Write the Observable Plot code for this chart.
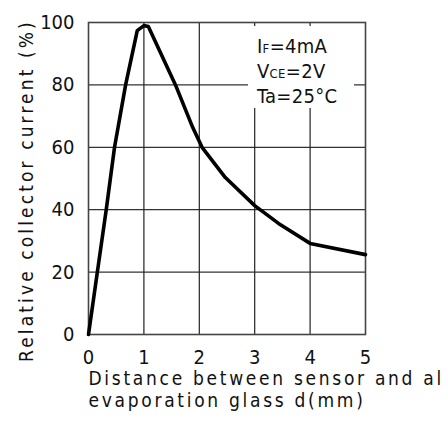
<!DOCTYPE html>
<html><head><meta charset="utf-8">
<script src="https://cdn.jsdelivr.net/npm/d3@7"></script>
<script src="https://cdn.jsdelivr.net/npm/@observablehq/plot@0.6"></script>
<style>
body{margin:0;background:#fff;}
#wrap{position:relative;width:448px;height:423px;overflow:hidden;}
#legend{position:absolute;left:248px;top:26px;width:106px;height:82px;background:#fff;
  font-family:"DejaVu Sans Condensed","Liberation Sans Narrow",sans-serif;font-size:20px;line-height:23px;
  padding-left:9px;padding-top:9px;box-sizing:border-box;color:#111;letter-spacing:0.3px;}
#legend .s{font-size:13px;}
.xlab text{letter-spacing:2.7px;}
.ylab text{letter-spacing:3.1px;}
</style>
</head><body>
<div id="wrap"><div id="legend"></div></div>
<script>
const distance = [0, 0.16, 0.32, 0.47, 0.67, 0.88, 1.0, 1.08, 1.57, 1.88, 2.05, 2.47, 3.0, 3.43, 4.0, 5.0];
const current  = [0, 20, 40, 60, 80, 97.4, 99, 98.7, 80, 66.4, 60, 50.3, 41.3, 35.6, 29.2, 25.6];
const xTicks = [0, 1, 2, 3, 4, 5];
const yTicks = [0, 20, 40, 60, 80, 100];
const xGrid = [1, 2, 3, 4];
const yGrid = [20, 40, 60, 80];
const xLabelLines = ["Distance between sensor and al", "evaporation glass d(mm)"];
const yLabel = "Relative collector current (%)";
const legendLines = [["I", "F", "=4mA"], ["V", "CE", "=2V"], ["Ta=25°C", "", ""]];

const data = distance.map((d, i) => ({d, c: current[i]}));
const font = `"DejaVu Sans Condensed","Liberation Sans Narrow",sans-serif`;

const chart = Plot.plot({
  width: 448, height: 423,
  marginLeft: 88, marginRight: 83, marginTop: 22, marginBottom: 89,
  style: {fontFamily: font, fontSize: "19px", color: "#111", background: "#fff", overflow: "hidden"},
  x: {domain: [0, 5], label: null},
  y: {domain: [0, 100], label: null},
  marks: [
    Plot.ruleY(yGrid, {stroke: "#333", strokeWidth: 1.2}),
    Plot.ruleX(xGrid, {stroke: "#222", strokeWidth: 1.2}),
    Plot.frame({stroke: "#444", strokeWidth: 1.6}),
    Plot.axisX(xTicks, {tickSize: 0, tickPadding: 15, fontSize: 20, label: null}),
    Plot.axisY(yTicks, {tickSize: 0, tickPadding: 14, fontSize: 20, label: null}),
    Plot.line(data, {x: "d", y: "c", stroke: "#000", strokeWidth: 3.6, strokeLinejoin: "round", strokeLinecap: "round"}),
    Plot.text([xLabelLines.join("\n")], {frameAnchor: "bottom-left", textAnchor: "start", lineAnchor: "top", dy: 35, lineHeight: 1.15, fontSize: 19, className: "xlab"}),
    Plot.text([yLabel], {frameAnchor: "left", textAnchor: "middle", rotate: -90, dx: -62, dy: 12, fontSize: 19, className: "ylab"})
  ]
});
document.getElementById("wrap").prepend(chart);
const leg = document.getElementById("legend");
leg.innerHTML = legendLines.map(([a, s, b]) => `<div>${a}<span class="s">${s}</span>${b}</div>`).join("");
</script>
</body></html>
